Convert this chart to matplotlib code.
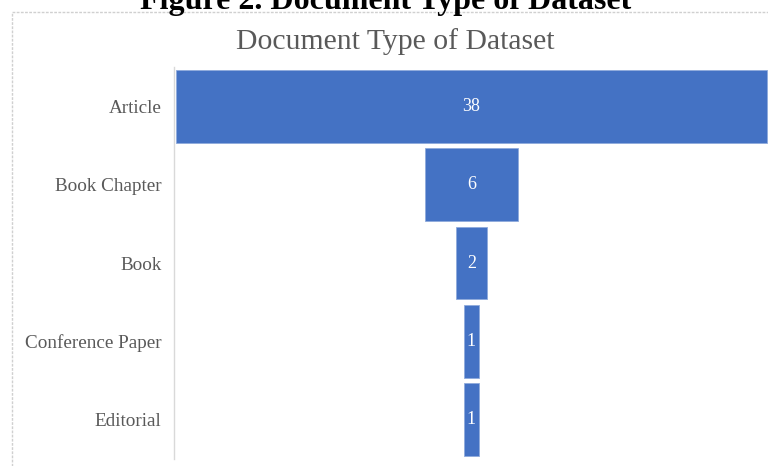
import matplotlib.pyplot as plt
from matplotlib.patches import Rectangle

plt.rcParams['font.family'] = ['Liberation Serif', 'DejaVu Serif']

# data
categories = ['Article', 'Book Chapter', 'Book', 'Conference Paper', 'Editorial']
counts = [38, 6, 2, 1, 1]

W, H = 768, 466
fig = plt.figure(figsize=(W / 100, H / 100), dpi=100)

# outer chart frame (light gray, partially cut off)
frame = Rectangle((12 / W, -0.05), 1.1, (H - 12) / H + 0.05, transform=fig.transFigure,
                  facecolor='none', edgecolor='#D0D0D0', linewidth=1, linestyle=(0, (2, 1)))
fig.patches.append(frame)

# caption (cut at the top, as in the source page)
fig.text(386 / W, 1 - 8.5 / H, 'Figure 2. Document Type of Dataset', ha='center', va='baseline',
         fontsize=23, fontweight='bold', color='black')

# chart title
fig.text(395 / W, 1 - 42 / H, 'Document Type of Dataset', ha='center', va='center',
         fontsize=21.4, color='#595959')

ax = fig.add_axes([174 / W, 1 - 459 / H, (W - 174) / W, (459 - 67) / H])
ax.set_facecolor('none')

y = list(range(len(categories)))
lefts = [-c / 2 for c in counts]
ax.barh(y, counts, left=lefts, height=0.93, color='#4472C4',
        edgecolor='#8FAADC', linewidth=0.6)

for yi, c in zip(y, counts):
    ax.text(0, yi, str(c), ha='center', va='center', color='white', fontsize=13)

ax.set_xlim(-19.13, 19.07)
ax.set_ylim(len(categories) - 0.5, -0.5)
ax.set_yticks(y)
ax.set_yticklabels(categories, fontsize=13.8, color='#595959')
ax.tick_params(axis='y', length=0, pad=9)
ax.set_xticks([])

for s in ['top', 'right', 'bottom']:
    ax.spines[s].set_visible(False)
ax.spines['left'].set_color('#D9D9D9')
ax.spines['left'].set_linewidth(1)

fig.savefig('out.png', dpi=100)
